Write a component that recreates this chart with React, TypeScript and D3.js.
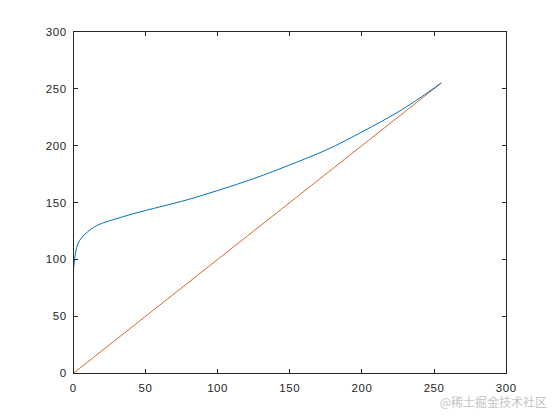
import React from "react";
import * as d3 from "d3";

const xTicks = [0, 50, 100, 150, 200, 250, 300];
const yTicks = [0, 50, 100, 150, 200, 250, 300];

const curveX = [0, 0, 1, 3.3, 10, 19.4, 31, 42.5, 50, 75, 100, 125, 150, 175, 200, 225, 250, 255];
const curveY = [64, 86, 101, 114, 124.3, 131.5, 136.2, 140.5, 143, 151, 160.5, 171, 183, 196, 212, 229.5, 250.5, 255];

const lineX = [0, 255];
const lineY = [0, 255];

const W = 560;
const H = 420;
const L = 73.3, R = 506.3, T = 31.7, B = 373.3;

export default function App() {
  const x = d3.scaleLinear().domain([0, 300]).range([L, R]);
  const y = d3.scaleLinear().domain([0, 300]).range([B, T]);
  const blue = d3
    .line<number>()
    .x((_, i) => x(curveX[i]))
    .y((d) => y(d))
    .curve(d3.curveMonotoneY)(curveY);
  const red = d3
    .line<number>()
    .x((_, i) => x(lineX[i]))
    .y((d) => y(d))(lineY);
  const axisColor = "#262626";
  const tl = 4.3;
  const font = "'Liberation Sans', Arial, sans-serif";
  return (
    <svg
      width={W}
      height={H}
      style={{ position: "absolute", left: 0, top: 0, background: "#fff" }}
    >
      <rect x={0} y={0} width={W} height={H} fill="#fff" />
      <defs>
        <clipPath id="plot">
          <rect x={L} y={T} width={R - L} height={B - T} />
        </clipPath>
      </defs>
      <g clipPath="url(#plot)" fill="none">
        <path d={red || ""} stroke="#D95319" strokeWidth={0.9} />
        <path d={blue || ""} stroke="#0072BD" strokeWidth={1} />
      </g>
      <g stroke={axisColor} strokeWidth={1} fill="none" shapeRendering="crispEdges">
        <rect x={L} y={T} width={R - L} height={B - T} />
        {xTicks.map((t) => (
          <g key={"x" + t}>
            <line x1={x(t)} x2={x(t)} y1={B} y2={B - tl} />
            <line x1={x(t)} x2={x(t)} y1={T} y2={T + tl} />
          </g>
        ))}
        {yTicks.map((t) => (
          <g key={"y" + t}>
            <line x1={L} x2={L + tl} y1={y(t)} y2={y(t)} />
            <line x1={R} x2={R - tl} y1={y(t)} y2={y(t)} />
          </g>
        ))}
      </g>
      <g fill={axisColor} fontFamily={font} fontSize={11.5} letterSpacing={0.6}>
        {xTicks.map((t) => (
          <text key={"xl" + t} x={x(t)} y={B + 18.3} textAnchor="middle">
            {t}
          </text>
        ))}
        {yTicks.map((t) => (
          <text key={"yl" + t} x={L - 6.5} y={y(t) + 4} textAnchor="end">
            {t}
          </text>
        ))}
      </g>
      <text
        x={547}
        y={406.5}
        textAnchor="end"
        fontFamily="'Noto Sans CJK SC', sans-serif"
        fontSize={12}
        fill="#c4c4c4"
      >
        @稀土掘金技术社区
      </text>
    </svg>
  );
}
